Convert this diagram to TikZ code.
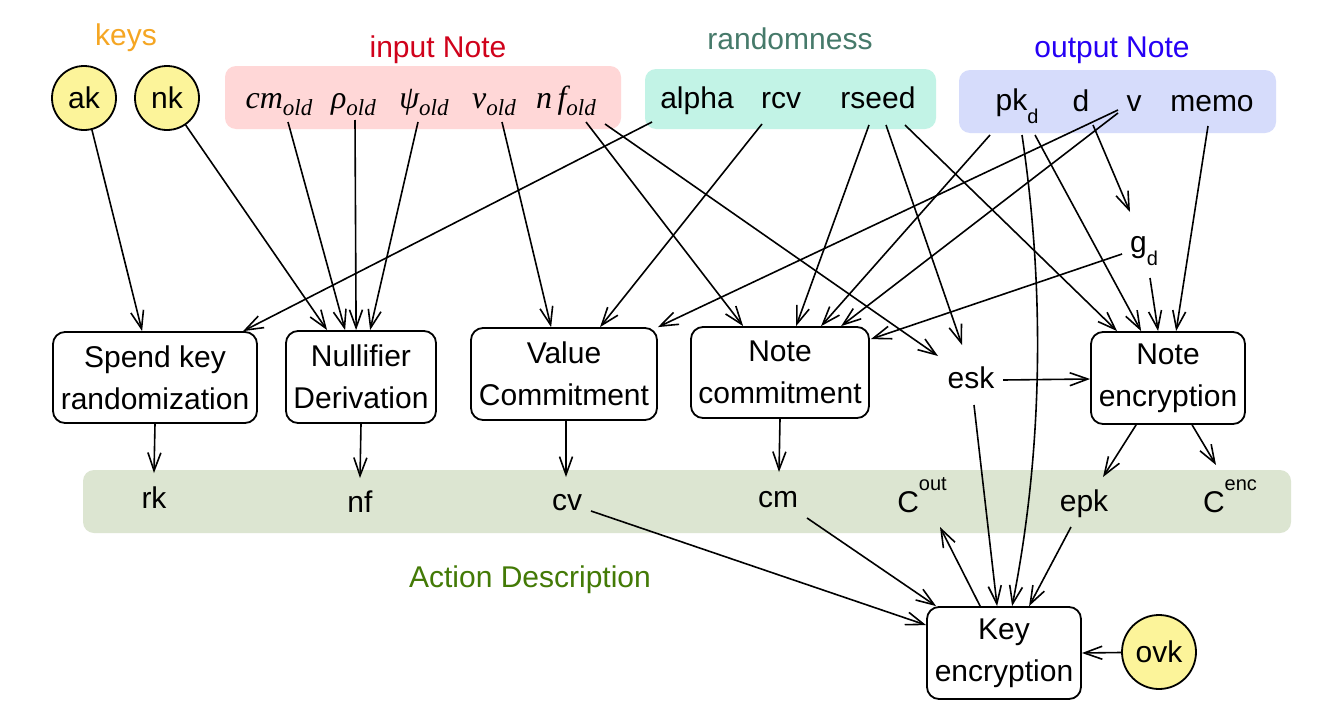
\documentclass[tikz,border=0pt]{standalone}
\usepackage{fontspec}
\setmainfont{Liberation Sans}
\newfontfamily\serifit{Liberation Serif}
\usetikzlibrary{arrows.meta,calc}
\definecolor{ckeys}{HTML}{F5A623}
\definecolor{cin}{HTML}{D0021B}
\definecolor{crand}{HTML}{467A6A}
\definecolor{cout}{HTML}{2600F5}
\definecolor{cact}{HTML}{437A06}
\definecolor{fyel}{HTML}{FCF49A}
\definecolor{fin}{HTML}{FFD7D7}
\definecolor{frand}{HTML}{C2F3E6}
\definecolor{fout}{HTML}{D6DCFB}
\definecolor{fact}{HTML}{DCE5D1}
\newcommand\myfs{\fontsize{30}{42}\selectfont}
\newcommand\mysm{\fontsize{20}{20}\selectfont}
\newcommand\oldv[1]{{\serifit\itshape\fontsize{32}{32}\selectfont #1\raisebox{-7pt}{\fontsize{23}{23}\selectfont old}}}
\tikzset{
  arr/.style={-{Straight Barb[length=18pt,width=13pt]}, line width=1.6pt},
  proc/.style={draw, line width=1.8pt, rounded corners=12pt, fill=white, align=center, inner sep=0pt, font=\myfs},
  keycirc/.style={circle, draw, line width=1.8pt, fill=fyel, inner sep=0pt, font=\myfs},
  txt/.style={inner sep=0pt, anchor=base, font=\myfs},
  grp/.style={rounded corners=11pt, inner sep=0pt, draw=none}
}
\begin{document}
\begin{tikzpicture}[x=1pt,y=-1pt]
\fill[white] (0,0) rectangle (1323,723);
\useasboundingbox (0,0) rectangle (1323,723);

% group backgrounds
\node[grp, fill=fin, minimum width=396pt, minimum height=63pt] (inbox) at (423,97.5) {};
\node[grp, fill=frand, minimum width=291pt, minimum height=60pt] (randbox) at (790.5,99) {};
\node[grp, fill=fout, minimum width=317pt, minimum height=63pt] (outbox) at (1117.5,101.5) {};
\node[grp, fill=fact, minimum width=1208pt, minimum height=63pt] (actbox) at (687,501.5) {};

% group labels
\node[txt, text=ckeys] (keyslab) at (126,45) {keys};
\node[txt, text=cin] (inlab) at (438,57) {input Note};
\node[txt, text=crand] (randlab) at (790,49) {randomness};
\node[txt, text=cout] (outlab) at (1112,57) {output Note};
\node[txt, text=cact] (actlab) at (530,587) {Action Description};

% keys
\node[keycirc, minimum size=64pt] (ak) at (84,98) {ak};
\node[keycirc, minimum size=64pt] (nk) at (167,98) {nk};
\node[keycirc, minimum size=74pt] (ovk) at (1159,652) {ovk};

% input note
\node[txt] (cmold) at (279,108) {\oldv{cm}};
\node[txt] (rhoold) at (353.5,108) {\oldv{ρ}};
\node[txt] (psiold) at (424,108) {\oldv{ψ}};
\node[txt] (vold) at (494,108) {\oldv{v}};
\node[txt] (nfold) at (566,108) {\oldv{n\,f}};

% randomness
\node[txt] (alpha) at (697,108) {alpha};
\node[txt] (rcv) at (781,108) {rcv};
\node[txt] (rseed) at (878,108) {rseed};

% output note
\node[txt] (pkd) at (1017,110) {pk\raisebox{-13pt}{\mysm d}};
\node[txt] (d) at (1081,111) {d};
\node[txt] (v) at (1134,111) {v};
\node[txt] (memo) at (1212,111) {memo};

% intermediates
\node[txt] (gd) at (1144,252) {g\raisebox{-13pt}{\mysm d}};
\node[txt] (esk) at (971,388) {esk};

% processes
\node[proc, minimum width=204pt, minimum height=91pt] (spend) at (155,377.5) {Spend key\\randomization};
\node[proc, minimum width=150pt, minimum height=92pt] (null) at (361,377) {Nullifier\\Derivation};
\node[proc, minimum width=186pt, minimum height=92pt] (val) at (564,374) {Value\\Commitment};
\node[proc, minimum width=178pt, minimum height=91pt] (notec) at (780,372.5) {Note\\commitment};
\node[proc, minimum width=154pt, minimum height=92pt] (notenc) at (1168,378) {Note\\encryption};
\node[proc, minimum width=154pt, minimum height=92pt] (keyenc) at (1004,653) {Key\\encryption};

% action description items
\node[txt] (rk) at (154,508) {rk};
\node[txt] (nf) at (360,512) {nf};
\node[txt] (cv) at (567,510) {cv};
\node[txt] (cm) at (778,507) {cm};
\node[txt] (cout) at (922,512) {C\raisebox{22pt}{\mysm out}};
\node[txt] (epk) at (1084,511) {epk};
\node[txt] (cenc) at (1230,512) {C\raisebox{22pt}{\mysm enc}};

% edges: keys
\draw[arr] (ak) -- ($(spend.north west)+(90,0)$);
\draw[arr] (nk) -- ($(null.north west)+(42,0)$);
% input note
\draw[arr] ($(cmold.base)+(9,14)$) -- ($(null.north west)+(60,0)$);
\draw[arr] ($(rhoold.base)+(1.5,12)$) -- ($(null.north west)+(71,0)$);
\draw[arr] ($(psiold.base)+(-6,14)$) -- ($(null.north west)+(85,0)$);
\draw[arr] ($(vold.base)+(8,14)$) -- ($(val.north west)+(81,0)$);
\draw[arr] ($(nfold.base)+(20,14)$) -- ($(notec.north west)+(53,0)$);
\draw[arr] ($(nfold.base)+(39,16)$) -- ($(esk.base)+(-33,-32)$);
% randomness
\draw[arr] ($(alpha.base)+(-45,14)$) -- ($(spend.north west)+(191,0)$);
\draw[arr] ($(rcv.base)+(-19,16)$) -- ($(val.north west)+(130,0)$);
\draw[arr] ($(rseed.base)+(-9,17)$) -- ($(notec.north west)+(106,0)$);
\draw[arr] ($(rseed.base)+(8,17)$) -- ($(esk.base)+(-9,-43)$);
\draw[arr] ($(rseed.base)+(27,17)$) -- ($(notenc.north west)+(27,0)$);
% output note
\draw[arr] ($(pkd.base)+(-27,25)$) -- ($(notec.north west)+(131,0)$);
\draw[arr] ($(pkd.base)+(5,25)$) .. controls (1045,290) and (1043,450) .. ($(keyenc.north west)+(86,0)$);
\draw[arr] ($(pkd.base)+(18,25)$) -- ($(notenc.north west)+(51,0)$);
\draw[arr] ($(v.base)+(-16,-1)$) -- (val.north east);
\draw[arr] ($(v.base)+(-16,2)$) -- ($(notec.north west)+(151,0)$);
\draw[arr] ($(d.base)+(12,14)$) -- ($(gd.base)+(-14,-40)$);
\draw[arr] ($(memo.base)+(-4,15)$) -- ($(notenc.north west)+(86,0)$);
% gd
\draw[arr] ($(gd.base)+(-22,2)$) -- ($(notec.north east)+(1,13)$);
\draw[arr] ($(gd.base)+(6,26)$) -- ($(notenc.north west)+(68,0)$);
% esk
\draw[arr] ($(esk.base)+(32,-8)$) -- ($(notenc.west)+(0,1)$);
\draw[arr] ($(esk.base)+(3,17)$) -- ($(keyenc.north west)+(71,0)$);
% processes to outputs
\draw[arr] (spend.south) -- ($(rk.base)+(0,-35)$);
\draw[arr] (null.south) -- ($(nf.base)+(0,-34)$);
\draw[arr] ($(val.south)+(2,0)$) -- ($(cv.base)+(-1,-33)$);
\draw[arr] (notec.south) -- ($(cm.base)+(1,-35)$);
\draw[arr] ($(notenc.south west)+(46,0)$) -- ($(epk.base)+(19,-34)$);
\draw[arr] ($(notenc.south west)+(102,0)$) -- ($(cenc.base)+(-14,-47)$);
% to key encryption
\draw[arr] ($(cv.base)+(24,1)$) -- ($(keyenc.north west)+(0,19)$);
\draw[arr] ($(cm.base)+(29,11)$) -- ($(keyenc.north west)+(10,0)$);
\draw[arr] ($(keyenc.north west)+(54,0)$) -- ($(cout.base)+(18,15)$);
\draw[arr] ($(epk.base)+(-13,16)$) -- ($(keyenc.north west)+(103,0)$);
\draw[arr] (ovk) -- (keyenc.east);
\end{tikzpicture}
\end{document}
